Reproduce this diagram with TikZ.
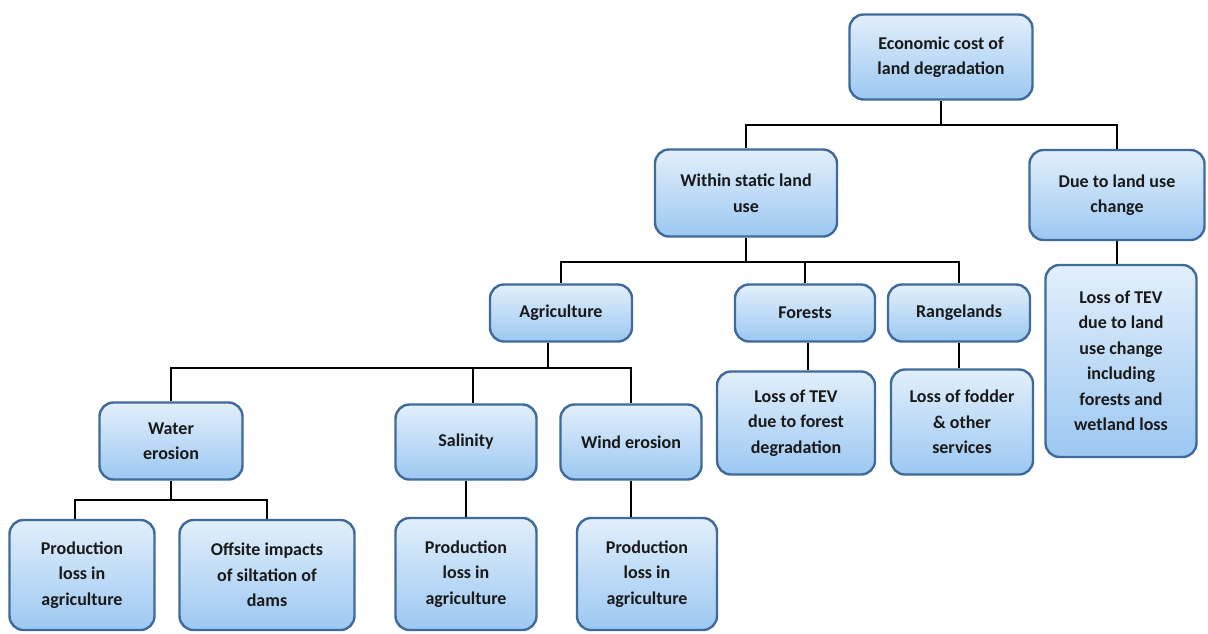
\documentclass[tikz,border=0pt]{standalone}
\usepackage{fontspec}
\setmainfont{Carlito}
\usetikzlibrary{calc}
\definecolor{boxtop}{HTML}{E2EFFB}
\definecolor{boxbot}{HTML}{9CC8F2}
\definecolor{boxline}{HTML}{3F6A99}
\tikzset{
  box/.style={draw=boxline, line width=2.4pt, rounded corners=14pt,
    top color=boxtop, bottom color=boxbot, align=center,
    font=\fontsize{18}{25.5}\selectfont\bfseries, text=black!90, inner sep=2pt},
  conn/.style={draw=black, line width=2.8pt}
}
\begin{document}
\begin{tikzpicture}[x=1pt,y=-1pt]
\useasboundingbox (0,0) rectangle (1208,633);
\fill[white] (0,0) rectangle (1208,633);
% nodes
\node[box, minimum width=183pt, minimum height=85pt] (eco) at (941,57) {Economic cost of\\land degradation};
\node[box, minimum width=182pt, minimum height=87pt] (within) at (746,193) {Within static land\\use};
\node[box, minimum width=175pt, minimum height=90pt] (due) at (1117,195) {Due to land use\\change};
\node[box, minimum width=142pt, minimum height=57pt] (agri) at (561,313) {Agriculture};
\node[box, minimum width=140pt, minimum height=57pt] (forest) at (805,313) {Forests};
\node[box, minimum width=142pt, minimum height=57pt] (range) at (959,313) {Rangelands};
\node[box, minimum width=158pt, minimum height=103pt] (tevf) at (796,423) {Loss of TEV\\due to forest\\degradation};
\node[box, minimum width=142pt, minimum height=105pt] (fodder) at (962,422) {Loss of fodder\\\& other\\services};
\node[box, minimum width=151pt, minimum height=192pt] (tevl) at (1121,361) {Loss of TEV\\due to land\\use change\\including\\forests and\\wetland loss};
\node[box, minimum width=143pt, minimum height=77pt] (water) at (171,441) {Water\\erosion};
\node[box, minimum width=141pt, minimum height=75pt] (salin) at (466,442) {Salinity};
\node[box, minimum width=141pt, minimum height=75pt] (wind) at (631,442) {Wind erosion};
\node[box, minimum width=145pt, minimum height=110pt] (prodw) at (82,575) {Production\\loss in\\agriculture};
\node[box, minimum width=175pt, minimum height=110pt] (offsite) at (267,575) {Offsite impacts\\of siltation of\\dams};
\node[box, minimum width=141pt, minimum height=112pt] (prods) at (466,574) {Production\\loss in\\agriculture};
\node[box, minimum width=140pt, minimum height=112pt] (prodwind) at (647,574) {Production\\loss in\\agriculture};
% bus levels
\coordinate (bus1) at (0,125);
\coordinate (bus2) at (0,262);
\coordinate (bus3) at (0,368);
\coordinate (bus4) at (0,500);
% connectors
\draw[conn] (eco.south) -- (eco.south |- bus1);
\draw[conn] (within.north) -- (within.north |- bus1) -- (due.north |- bus1) -- (due.north);
\draw[conn] (within.south) -- (within.south |- bus2);
\draw[conn] (agri.north) -- (agri.north |- bus2) -- (range.north |- bus2) -- (range.north);
\draw[conn] (forest.north) -- (forest.north |- bus2);
\draw[conn] ($(agri.south)+(-13,0)$) coordinate (ags) -- (ags |- bus3);
\draw[conn] (water.north) -- (water.north |- bus3) -- (wind.north |- bus3) -- (wind.north);
\draw[conn] ($(salin.north)+(7,0)$) coordinate (sn) -- (sn |- bus3);
\draw[conn] (water.south) -- (water.south |- bus4);
\draw[conn] ($(prodw.north)+(-7,0)$) coordinate (pn) -- (pn |- bus4) -- (offsite.north |- bus4) -- (offsite.north);
\draw[conn] (salin.south) -- (prods.north);
\draw[conn] (wind.south) -- (wind.south |- prodwind.north);
\draw[conn] ($(forest.south)+(3,0)$) coordinate (fs) -- (fs |- tevf.north);
\draw[conn] (range.south) -- (range.south |- fodder.north);
\draw[conn] (due.south) -- (due.south |- tevl.north);
\end{tikzpicture}
\end{document}
